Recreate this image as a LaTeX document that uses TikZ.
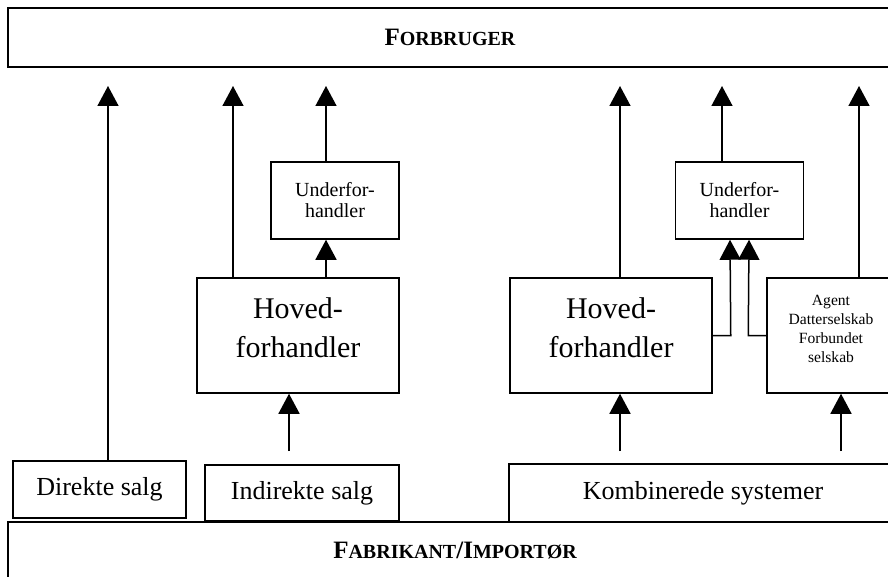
\documentclass[tikz,border=0pt]{standalone}
\usepackage{fontspec}
\setmainfont{Liberation Serif}
\usetikzlibrary{arrows.meta}

\newcommand{\capsc}[2]{{\fontsize{25}{30}\selectfont #1}{\fontsize{20}{24}\selectfont #2}}

\begin{document}
\begin{tikzpicture}[
    x=1pt, y=-1pt,
    line width=1.5pt,
    box/.style={draw, line width=1.5pt, inner sep=0pt, align=center},
    arr/.style={-{Triangle[width=21pt, length=20pt]}},
    hovedbox/.style={box, minimum width=202pt, minimum height=115pt},
    hovedtext/.style={inner sep=0pt, align=center, font=\fontsize{30}{39}\selectfont},
    underbox/.style={box, minimum width=128pt, minimum height=77pt, font=\fontsize{20}{21}\selectfont},
    salgbox/.style={box, font=\fontsize{26}{30}\selectfont},
]
\useasboundingbox (0,0) rectangle (888,577);
\clip (0,0) rectangle (888,577);

% Positions
\node[box, minimum width=884pt, minimum height=59pt, font=\bfseries] (forb) at (450,37.5) {\capsc{F}{ORBRUGER}};
\node[box, minimum width=894pt, minimum height=58pt, font=\bfseries] (fabr) at (455,551) {\capsc{F}{ABRIKANT}\capsc{/I}{MPORTØR}};

\node[salgbox, minimum width=173pt, minimum height=57pt] (direkte) at (99.5,489.5) {Direkte salg};
\node[salgbox, minimum width=194pt, minimum height=56pt] (indirekte) at (302,493) {Indirekte salg};
\node[salgbox, minimum width=388pt, minimum height=58pt] (komb) at (703,493) {Kombinerede systemer};

\node[hovedbox] (hovedL) at (298,335.5) {};
\node[hovedtext] (hovedLtxt) at ([yshift=8pt]hovedL.center) {Hoved-\\forhandler};
\node[hovedbox] (hovedR) at (611,335.5) {};
\node[hovedtext] (hovedRtxt) at ([yshift=8pt]hovedR.center) {Hoved-\\forhandler};
\node[underbox] (underL) at (335,200.5) {Underfor-\\handler};
\node[underbox] (underR) at (739.5,200.5) {Underfor-\\handler};
\node[box, minimum width=128pt, minimum height=115pt] (agent) at (831,335.5) {};
\node[inner sep=0pt, align=center, font=\fontsize{15.6}{19}\selectfont] (agenttxt) at ([yshift=7pt]agent.center) {Agent\\Datterselskab\\Forbundet\\selskab};

% Pilespidser
\coordinate (t1) at (108,86);
\coordinate (t2) at (233,86);
\coordinate (t3) at (326,86);
\coordinate (t4) at (620,86);
\coordinate (t5) at (722,86);
\coordinate (t6) at (859,86);
\coordinate (b1) at (289,451);
\coordinate (b2) at (620,451);
\coordinate (b3) at (841,451);

% Linier
\draw[arr] (t1 |- direkte.north) -- (t1);
\draw[arr] (t2 |- hovedL.north) -- (t2);
\draw[arr] (t3 |- underL.north) -- (t3);
\draw[arr] (t3 |- hovedL.north) -- (t3 |- underL.south);
\draw[arr] (b1) -- (b1 |- hovedL.south);

\draw[arr] (t4 |- hovedR.north) -- (t4);
\draw[arr] (t5 |- underR.north) -- (t5);
\draw[arr] (t6 |- agent.north) -- (t6);
\draw[arr] (hovedR.east) -- ++(18,0) -- (730,0 |- underR.south);
\draw[arr] (agent.west) -- ++(-18,0) -- (749,0 |- underR.south);
\draw[arr] (b2) -- (b2 |- hovedR.south);
\draw[arr] (b3) -- (b3 |- agent.south);

\end{tikzpicture}
\end{document}
